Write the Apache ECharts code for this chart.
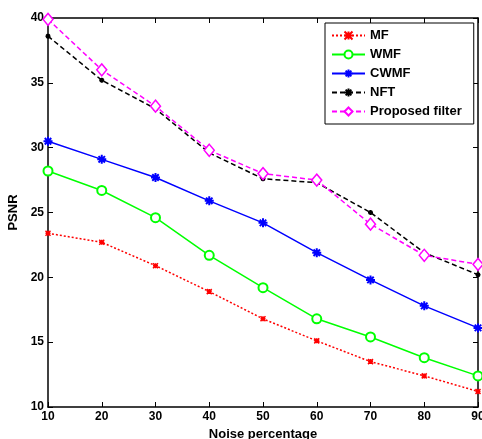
<!DOCTYPE html>
<html><head><meta charset="utf-8">
<script src="https://cdn.jsdelivr.net/npm/echarts@6/dist/echarts.min.js"></script>
<style>html,body{margin:0;padding:0;background:#fff;overflow:hidden}#c{width:482px;height:439px}</style>
</head><body><div id="c"></div>
<script>
const categories = [10, 20, 30, 40, 50, 60, 70, 80, 90];
const mf = [23.4, 22.7, 20.9, 18.9, 16.8, 15.1, 13.5, 12.4, 11.2];
const wmf = [28.2, 26.7, 24.6, 21.7, 19.2, 16.8, 15.4, 13.8, 12.4];
const cwmf = [30.5, 29.1, 27.7, 25.9, 24.2, 21.9, 19.8, 17.8, 16.1];
const nft = [38.6, 35.2, 33.0, 29.6, 27.6, 27.3, 25.0, 21.9, 20.2];
const proposed = [39.9, 36.0, 33.2, 29.8, 28.0, 27.5, 24.1, 21.7, 21.0];
const seriesNames = ['MF', 'WMF', 'CWMF', 'NFT', 'Proposed filter'];

const star = 'path://M0,-5L0,5M-5,0L5,0M-3.6,-3.6L3.6,3.6M-3.6,3.6L3.6,-3.6';
const xmark = 'path://M-3,-3L3,3M-3,3L3,-3M0,-3L0,3M-3,0L3,0';
const font = 'Liberation Sans, Arial, sans-serif';
function pts(arr){ return categories.map((c,i)=>[c, arr[i]]); }

const chart = echarts.init(document.getElementById('c'));
const axisCommon = {
  axisLine:{lineStyle:{color:'#000',width:1.5}},
  axisTick:{inside:true,length:5,lineStyle:{color:'#000',width:1}},
  splitLine:{show:false}
};
chart.setOption({
  animation:false,
  backgroundColor:'#fff',
  grid:{left:48, right:4, top:18, bottom:32, containLabel:false, outerBoundsMode:'none'},
  legend:{
    orient:'vertical', left:325, top:23,
    backgroundColor:'#fff', borderColor:'#000', borderWidth:1,
    padding:[6,12,6,6], itemGap:6, itemWidth:33, itemHeight:10,
    textStyle:{fontFamily:font, fontWeight:'bold', fontSize:13, color:'#000'},
    data: seriesNames
  },
  xAxis:[
    Object.assign({type:'value', min:10, max:90, interval:10, position:'bottom',
      name:'Noise percentage', nameLocation:'middle', nameGap:19,
      nameTextStyle:{fontFamily:font, fontWeight:'bold', fontSize:13, color:'#000'},
      axisLabel:{fontFamily:font, fontWeight:'bold', fontSize:12, color:'#000', margin:4}}, axisCommon),
    Object.assign({type:'value', min:10, max:90, interval:10, position:'top',
      axisLabel:{show:false}}, axisCommon)
  ],
  yAxis:[
    Object.assign({type:'value', min:10, max:40, interval:5, position:'left',
      name:'PSNR', nameLocation:'middle', nameGap:28, nameRotate:90,
      nameTextStyle:{fontFamily:font, fontWeight:'bold', fontSize:13, color:'#000'},
      axisLabel:{fontFamily:font, fontWeight:'bold', fontSize:12, color:'#000', margin:4}}, axisCommon),
    Object.assign({type:'value', min:10, max:40, interval:5, position:'right',
      axisLabel:{show:false}}, axisCommon)
  ],
  series:[
    {name:'MF', type:'line', data:pts(mf), symbol:xmark, symbolSize:5,
      lineStyle:{color:'#ff0000', width:1.5, type:[2,2]}, itemStyle:{color:'#ff0000', borderColor:'#ff0000', borderWidth:1.5}},
    {name:'WMF', type:'line', data:pts(wmf), symbol:'emptyCircle', symbolSize:9,
      lineStyle:{color:'#00ff00', width:1.5}, itemStyle:{color:'#00ff00', borderColor:'#00ff00', borderWidth:1.5}},
    {name:'CWMF', type:'line', data:pts(cwmf), symbol:star, symbolSize:9,
      lineStyle:{color:'#0000ff', width:1.5}, itemStyle:{color:'#0000ff', borderColor:'#0000ff', borderWidth:2}},
    {name:'NFT', type:'line', data:pts(nft), symbol:star, symbolSize:5,
      lineStyle:{color:'#000000', width:1.5, type:[5,3]}, itemStyle:{color:'#000', borderColor:'#000', borderWidth:1.5}},
    {name:'Proposed filter', type:'line', data:pts(proposed), symbol:'diamond', symbolSize:[10,12],
      lineStyle:{color:'#ff00ff', width:1.5, type:[5,3]}, itemStyle:{color:'#fff', borderColor:'#ff00ff', borderWidth:1.5}}
  ]
});
</script></body></html>
